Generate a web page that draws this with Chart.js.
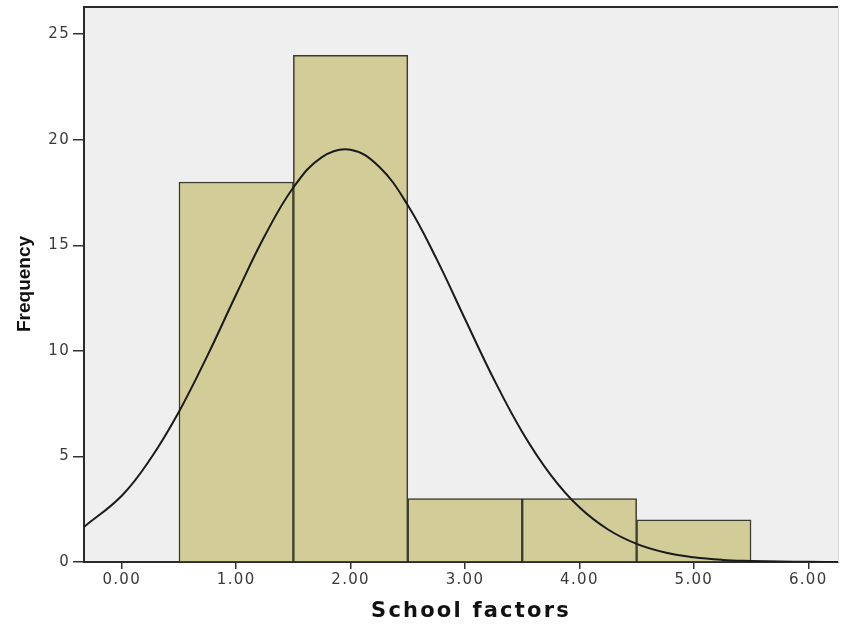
<!DOCTYPE html>
<html>
<head>
<meta charset="utf-8">
<script src="https://cdn.jsdelivr.net/npm/chart.js@4.4.1/dist/chart.umd.min.js"></script>
<style>
  body { margin: 0; background: #fff; }
  #wrap { width: 846px; height: 625px; }
</style>
</head>
<body>
<div id="wrap"><canvas id="hist" width="846" height="625"></canvas></div>
<script>
// --- DATA ---
const binCenters = [1, 2, 3, 4, 5];
const frequencies = [18, 24, 3, 3, 2];

// normal curve
const curveX = [-0.33, 0, 0.25, 0.5, 0.75, 1, 1.25, 1.5, 1.75, 2, 2.25, 2.5, 2.75, 3, 3.25, 3.5, 3.75, 4, 4.25, 4.5, 4.75, 5, 5.25, 5.5, 5.75, 6, 6.26];
const curveY = [1.66, 3.14, 4.88, 7.12, 9.79, 12.67, 15.45, 17.74, 19.18, 19.53, 18.72, 16.9, 14.37, 11.51, 8.68, 6.16, 4.12, 2.59, 1.54, 0.86, 0.45, 0.22, 0.1, 0.05, 0.02, 0.01, 0];

const xTicks = [0, 1, 2, 3, 4, 5, 6];
const yTicks = [0, 5, 10, 15, 20, 25];
const xTitle = "School factors";
const yTitle = "Frequency";

// --- PLOT FRAME / TITLES ---
const framePlugin = {
    id: "frame",
    beforeDraw(chart) {
        const { ctx, chartArea: a } = chart;
        ctx.save();
        ctx.fillStyle = "#ffffff";
        ctx.fillRect(0, 0, chart.width, chart.height);
        ctx.fillStyle = "#efefef";
        ctx.fillRect(a.left, a.top, a.right - a.left, a.bottom - a.top);
        ctx.restore();
        ctx.letterSpacing = "1.3px"; // SPSS style spaced tick digits
    },
    afterDraw(chart) {
        const { ctx, chartArea: a } = chart;
        ctx.save();
        // top and right edges of the plot box
        ctx.strokeStyle = "#2a2a2a";
        ctx.lineWidth = 2;
        ctx.beginPath();
        ctx.moveTo(a.left, a.top);
        ctx.lineTo(a.right, a.top);
        ctx.stroke();
        ctx.strokeStyle = "#d8d8d8";
        ctx.lineWidth = 1;
        ctx.beginPath();
        ctx.moveTo(a.right + 0.5, a.top);
        ctx.lineTo(a.right + 0.5, a.bottom);
        ctx.stroke();

        // axis titles
        ctx.fillStyle = "#111";
        ctx.letterSpacing = "2.2px";
        ctx.font = "bold 21px 'DejaVu Sans'";
        ctx.textAlign = "center";
        ctx.textBaseline = "alphabetic";
        ctx.fillText(xTitle, 471, 617);

        ctx.letterSpacing = "0px";
        ctx.font = "bold 19px 'Liberation Sans'";
        ctx.translate(30, 284);
        ctx.rotate(-Math.PI / 2);
        ctx.fillText(yTitle, 0, 0);
        ctx.restore();
    }
};

const ctx = document.getElementById("hist").getContext("2d");
new Chart(ctx, {
    type: "bar",
    data: {
        datasets: [
            {
                type: "line",
                data: curveX.map((x, i) => ({ x, y: curveY[i] })),
                borderColor: "#1a1a1a",
                borderWidth: 2,
                pointRadius: 0,
                tension: 0.4,
                fill: false,
                order: 0
            },
            {
                type: "bar",
                data: binCenters.map((x, i) => ({ x, y: frequencies[i] })),
                backgroundColor: "rgb(210,204,152)",
                borderColor: "#3a3a2e",
                borderWidth: 1.5,
                barPercentage: 1,
                categoryPercentage: 1,
                order: 1
            }
        ]
    },
    options: {
        responsive: false,
        animation: false,
        layout: { padding: { left: 0, top: 7, right: 8, bottom: 0 } },
        plugins: { legend: { display: false }, tooltip: { enabled: false } },
        scales: {
            x: {
                type: "linear",
                min: -0.33,
                max: 6.26,
                offset: false,
                afterBuildTicks: s => { s.ticks = xTicks.map(v => ({ value: v })); },
                afterFit: s => { s.height = 63; s.paddingLeft = 0; s.paddingRight = 0; },
                ticks: {
                    color: "#3a3a3a",
                    font: { family: "'DejaVu Sans'", size: 15 },
                    padding: 2,
                    maxRotation: 0,
                    autoSkip: false,
                    callback: v => Number(v).toFixed(2)
                },
                grid: { offset: false, drawOnChartArea: false, drawTicks: true, tickLength: 7, color: "#333", lineWidth: 1.5 },
                border: { display: true, color: "#2a2a2a", width: 2 }
            },
            y: {
                min: 0,
                max: 26.29,
                afterBuildTicks: s => { s.ticks = yTicks.map(v => ({ value: v })); },
                afterFit: s => { s.width = 84; s.paddingTop = 0; s.paddingBottom = 0; },
                ticks: {
                    color: "#3a3a3a",
                    font: { family: "'DejaVu Sans'", size: 15 },
                    padding: 3,
                    autoSkip: false
                },
                grid: { drawOnChartArea: false, drawTicks: true, tickLength: 11, color: "#333", lineWidth: 1.5 },
                border: { display: true, color: "#2a2a2a", width: 2 }
            }
        }
    },
    plugins: [framePlugin]
});
</script>
</body>
</html>
